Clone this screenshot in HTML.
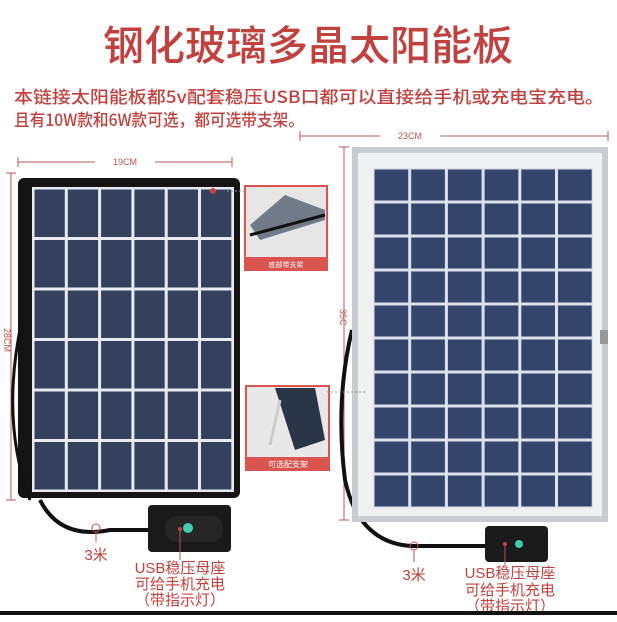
<!DOCTYPE html>
<html><head><meta charset="utf-8"><style>
body{margin:0;background:#fff;width:617px;height:617px;overflow:hidden;font-family:"Liberation Sans","Noto Sans CJK SC",sans-serif}
</style></head><body>
<svg width="617" height="617" xmlns="http://www.w3.org/2000/svg" font-family="Liberation Sans, Noto Sans CJK SC, sans-serif">
<defs>
<pattern id="cellL" x="33" y="188" width="33.3" height="50.5" patternUnits="userSpaceOnUse">
<rect width="33.3" height="50.5" fill="#e8ecf2"/><rect x="1.5" y="1.5" width="30.3" height="47.5" fill="#34405c"/>
</pattern>
<pattern id="cellR" x="373" y="168" width="36.7" height="34" patternUnits="userSpaceOnUse">
<rect width="36.7" height="34" fill="#dde3ec"/><rect x="1.5" y="1.5" width="33.7" height="31" fill="#34446a"/>
</pattern>
</defs>
<text x="308" y="60" text-anchor="middle" font-size="41" font-weight="500" fill="#c0413e" font-family="Noto Sans CJK SC, sans-serif">钢化玻璃多晶太阳能板</text>
<text x="14" y="103" font-size="17" font-weight="500" fill="#c0413e" font-family="Noto Sans CJK SC, sans-serif" textLength="590" lengthAdjust="spacingAndGlyphs">本链接太阳能板都5v配套稳压USB口都可以直接给手机或充电宝充电。</text>
<text x="14" y="126" font-size="17" font-weight="500" fill="#c0413e" font-family="Noto Sans CJK SC, sans-serif" textLength="290" lengthAdjust="spacingAndGlyphs">且有10W款和6W款可选，都可选带支架。</text>
<g stroke="#b85450" stroke-width="1" fill="none">
<line x1="18" y1="162" x2="232" y2="162"/><line x1="18" y1="157" x2="18" y2="167"/><line x1="232" y1="157" x2="232" y2="167"/>
<line x1="11" y1="173" x2="11" y2="500"/><line x1="6" y1="173" x2="16" y2="173"/><line x1="6" y1="500" x2="16" y2="500"/>
<line x1="300" y1="136" x2="608" y2="136"/><line x1="300" y1="131" x2="300" y2="141"/><line x1="608" y1="131" x2="608" y2="141"/>
<line x1="344" y1="147" x2="344" y2="520"/><line x1="339" y1="147" x2="349" y2="147"/><line x1="339" y1="520" x2="349" y2="520"/>
</g>
<rect x="95" y="155" width="60" height="12" fill="#fff"/><text x="125" y="165" text-anchor="middle" font-size="9" fill="#b85450">19CM</text>
<rect x="380" y="129" width="60" height="12" fill="#fff"/><text x="410" y="139" text-anchor="middle" font-size="9" fill="#b85450">23CM</text>
<text x="2" y="330" font-size="9" fill="#b85450" transform="rotate(90 4 330)">28CM</text>
<text x="339" y="310" font-size="9" fill="#b85450" transform="rotate(90 340 310)">35C</text>
<rect x="18" y="178" width="222" height="320" rx="6" fill="#141414"/>
<rect x="33" y="188" width="200" height="303" fill="url(#cellL)"/>
<rect x="33" y="188" width="200" height="303" fill="none" stroke="#e8ecf2" stroke-width="2"/>
<circle cx="213" cy="191" r="3" fill="#c0413e"/>
<path d="M40 500 Q60 540 110 530 L150 530" stroke="#111" stroke-width="4" fill="none"/>
<path d="M22 320 Q0 420 30 500" stroke="#111" stroke-width="3" fill="none"/>
<path d="M352 330 Q335 400 345 480 Q360 548 420 546 L485 546" stroke="#111" stroke-width="4" fill="none"/>
<rect x="148" y="505" width="83" height="47" rx="4" fill="#1a1a1a"/>
<rect x="165" y="516" width="58" height="26" rx="12" fill="#262626"/>
<circle cx="188" cy="528" r="5" fill="#3fd0b0"/><circle cx="180" cy="529" r="2" fill="#c0413e"/>
<rect x="485" y="526" width="63" height="36" rx="4" fill="#1a1a1a"/>
<circle cx="519" cy="544" r="4" fill="#3fd0b0"/><circle cx="505" cy="544" r="2" fill="#c0413e"/>
<g stroke="#b85450" fill="none"><circle cx="96" cy="528" r="4"/><line x1="96" y1="532" x2="96" y2="542"/><circle cx="414" cy="546" r="4"/><line x1="414" y1="550" x2="414" y2="562"/><line x1="180" y1="531" x2="180" y2="560"/><line x1="505" y1="546" x2="505" y2="566"/></g>
<text x="96" y="560" text-anchor="middle" font-size="15" fill="#c0413e">3米</text>
<text x="414" y="580" text-anchor="middle" font-size="15" fill="#c0413e">3米</text>
<g font-size="15" fill="#c0413e" text-anchor="middle">
<text x="180" y="573">USB稳压母座</text><text x="180" y="589">可给手机充电</text><text x="180" y="605">（带指示灯）</text>
<text x="510" y="578">USB稳压母座</text><text x="510" y="595">可给手机充电</text><text x="510" y="611">（带指示灯）</text>
</g>
<rect x="352" y="147" width="256" height="375" fill="#c8ccd1"/>
<rect x="358" y="153" width="244" height="363" fill="#eef0f2"/>
<rect x="373" y="168" width="220" height="340" fill="url(#cellR)"/>
<rect x="600" y="330" width="8" height="14" fill="#999"/>
<rect x="244" y="185" width="84" height="86" fill="#d9534f"/>
<rect x="246" y="187" width="80" height="70" fill="#e6e6e6"/>
<path d="M250 225 L285 195 L325 210 L325 220 L260 240 Z" fill="#707a88"/>
<line x1="250" y1="235" x2="325" y2="215" stroke="#111" stroke-width="3"/>
<text x="286" y="267" text-anchor="middle" font-size="7" fill="#fff">底部带支架</text>
<rect x="245" y="385" width="85" height="86" fill="#d9534f"/>
<rect x="247" y="387" width="81" height="70" fill="#e8e8e8"/>
<path d="M275 388 L315 388 L325 440 L295 450 Z" fill="#2b3548"/>
<line x1="270" y1="445" x2="280" y2="400" stroke="#ccc" stroke-width="3"/>
<text x="288" y="467" text-anchor="middle" font-size="8" fill="#fff">可选配支架</text>
<line x1="227" y1="191" x2="244" y2="191" stroke="#999" stroke-dasharray="2 2"/>
<line x1="327" y1="392" x2="365" y2="392" stroke="#999" stroke-dasharray="2 2"/>
<rect x="0" y="611" width="617" height="4" fill="#111"/>
</svg>
</body></html>
